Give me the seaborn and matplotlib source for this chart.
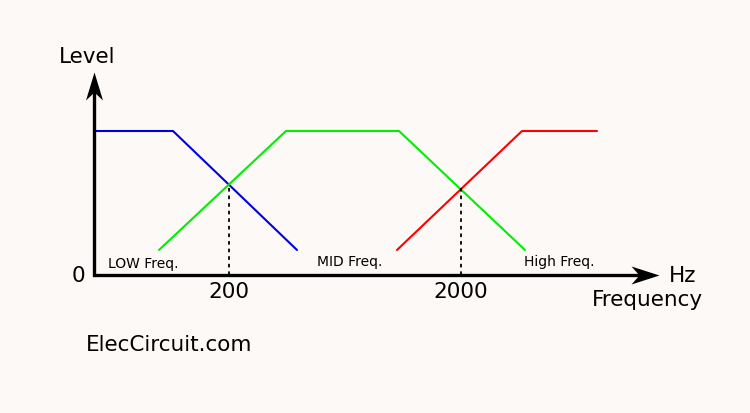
import matplotlib
matplotlib.use("Agg")
import matplotlib.pyplot as plt
from matplotlib.path import Path
import seaborn as sns
import pandas as pd

# schematic coordinates: x = horizontal position, y = level above the frequency axis
low_x = [94, 173, 297]
low_y = [144, 144, 25]
mid_x = [159, 286, 399, 525]
mid_y = [25, 144, 144, 25]
high_x = [397, 522, 597]
high_y = [25, 144, 144]

cross_x = [229, 461]
cross_y = [91, 87]
cross_labels = ['200', '2000']

band_names = ['LOW Freq.', 'MID Freq.', 'High Freq.']
band_x = [143, 350, 559]
band_y = [11, 13, 13]

colors = {'low': '#0000dd', 'mid': '#00ee00', 'high': '#ff0000'}
bg = '#fdf9f7'

sns.set_style('white')
plt.rcParams['font.family'] = ['DejaVu Sans']
plt.rcParams['text.color'] = 'black'

fig = plt.figure(figsize=(7.5, 4.13), dpi=100, facecolor=bg)
ax = fig.add_axes([0, 0, 1, 1])
ax.set_facecolor(bg)
ax.set_xlim(0, 750)
ax.set_ylim(-138, 275)
ax.axis('off')

for key, xs, ys in [('low', low_x, low_y), ('mid', mid_x, mid_y), ('high', high_x, high_y)]:
    df = pd.DataFrame({'x': xs, 'y': ys})
    sns.lineplot(data=df, x='x', y='y', ax=ax, color=colors[key], lw=1.5,
                 sort=False, estimator=None)

# dotted crossover markers
for cx, cy, lab in zip(cross_x, cross_y, cross_labels):
    ax.plot([cx, cx], [0, cy], color='black', lw=1.3, ls=(0, (2, 2.2)))
    ax.text(cx, -17, lab, ha='center', va='center', fontsize=15.5)

# axes: L-shaped line plus stealth-style arrow heads
ax.plot([94, 94, 645], [190, 0, 0], color='black', lw=2.4,
        solid_joinstyle='miter', solid_capstyle='butt')
head_r = Path([(0, 0), (-28, 9), (-20, 0), (-28, -9), (0, 0)],
              [Path.MOVETO, Path.LINETO, Path.LINETO, Path.LINETO, Path.CLOSEPOLY])
head_u = Path([(0, 0), (-8.5, -28), (0, -20), (8.5, -28), (0, 0)],
              [Path.MOVETO, Path.LINETO, Path.LINETO, Path.LINETO, Path.CLOSEPOLY])
ax.plot([659], [0], marker=head_r, markersize=40.3, color='black', mew=0)
ax.plot([94], [203], marker=head_u, markersize=40.3, color='black', mew=0)

ax.text(87, 218, 'Level', ha='center', va='center', fontsize=15.5)
ax.text(78, -1, '0', ha='center', va='center', fontsize=15.5)
ax.text(683, -1, 'Hz', ha='center', va='center', fontsize=15.5)
ax.text(647, -25, 'Frequency', ha='center', va='center', fontsize=15.5)

for name, bx, by in zip(band_names, band_x, band_y):
    ax.text(bx, by, name, ha='center', va='center', fontsize=10)

ax.text(169, -70, 'ElecCircuit.com', ha='center', va='center', fontsize=15.5)

fig.savefig('out.png', dpi=100, facecolor=bg)
